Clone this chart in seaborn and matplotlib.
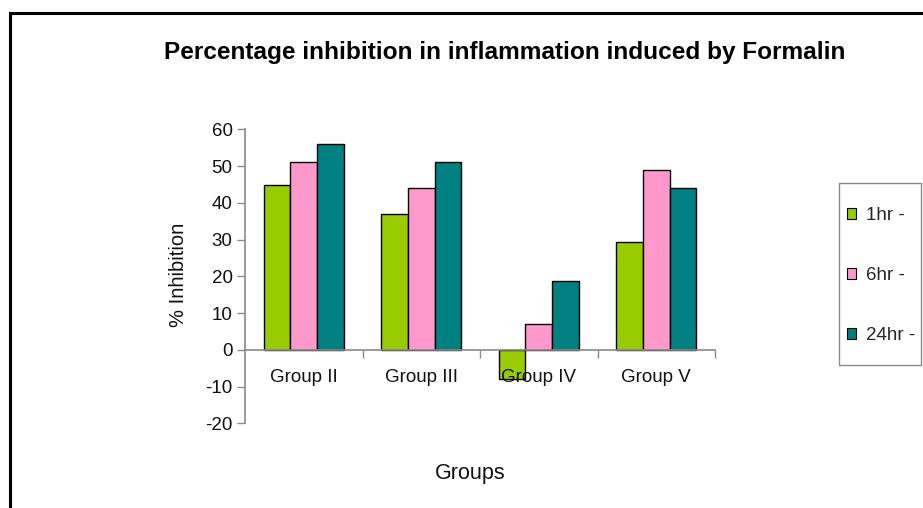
import matplotlib
matplotlib.use("Agg")
import matplotlib.pyplot as plt
import matplotlib.patches as mpatches
import seaborn as sns
import pandas as pd

# Percentage inhibition per group at each time point
groups = ["Group II", "Group III", "Group IV", "Group V"]
times = ["1hr -", "6hr -", "24hr -"]
inhibition_1hr = [44.8, 37.0, -8.0, 29.2]
inhibition_6hr = [51.0, 44.0, 7.0, 49.0]
inhibition_24hr = [56.0, 51.0, 18.7, 44.0]
y_ticks = [-20, -10, 0, 10, 20, 30, 40, 50, 60]

colors = ["#99CC00", "#FF99CC", "#008080"]

df = pd.DataFrame({
    "Groups": groups * 3,
    "Time": [t for t in times for _ in groups],
    "Inhibition": inhibition_1hr + inhibition_6hr + inhibition_24hr,
})

sns.set_style("white")
plt.rcParams["font.family"] = ["Liberation Sans", "DejaVu Sans"]

W, H = 923, 508
fig = plt.figure(figsize=(W / 100, H / 100), dpi=100)
ax = fig.add_axes([245 / W, 1 - 423.3 / H, (715 - 245) / W, (423.3 - 129.3) / H])

sns.barplot(data=df, x="Groups", y="Inhibition", hue="Time",
            palette=colors, width=0.68, edgecolor="black", linewidth=1.0,
            saturation=1.0, ax=ax, legend=False)

ax.set_ylim(-20, 60)
ax.set_xlim(-0.5, 3.5)
ax.set_yticks(y_ticks)
ax.set_yticklabels([str(v) for v in y_ticks])
# Axis labels and tick labels are drawn over the bars
ax.set_axisbelow(False)

axis_grey = "#8a8a8a"
for side in ["top", "right"]:
    ax.spines[side].set_visible(False)
ax.spines["left"].set_color(axis_grey)
ax.spines["bottom"].set_color(axis_grey)
ax.spines["bottom"].set_position(("data", 0))
ax.spines["left"].set_linewidth(1.2)
ax.spines["bottom"].set_linewidth(1.2)

ax.tick_params(axis="y", which="major", direction="out", length=6, width=1.0,
               color=axis_grey, labelsize=13.5, labelcolor="#111111", pad=3, left=True)
# Category labels sit under the zero line, tick marks fall between categories
ax.set_xticks(range(len(groups)))
ax.set_xticklabels(groups)
ax.set_xticks([0.5, 1.5, 2.5, 3.5], minor=True)
ax.tick_params(axis="x", which="major", length=0, labelsize=13.5,
               labelcolor="#111111", pad=14, bottom=True)
ax.tick_params(axis="x", which="minor", direction="out", length=6, width=1.0,
               color=axis_grey, bottom=True)

ax.set_xlabel("")
ax.set_ylabel("")
fig.text(178 / W, 1 - 275 / H, "% Inhibition", rotation=90,
         ha="center", va="center", fontsize=14.5, color="#111111")
fig.text(470 / W, 1 - 473 / H, "Groups", ha="center", va="center",
         fontsize=15.5, color="#111111")
fig.text(505 / W, 1 - 52 / H,
         "Percentage inhibition in inflammation induced by Formalin",
         ha="center", va="center", fontsize=17.6, fontweight="bold", color="black")

# Legend entries, with a separate grey box around them
handles = [mpatches.Patch(facecolor=c, edgecolor="black", linewidth=0.8, label=t)
           for c, t in zip(colors, times)]
leg = fig.legend(handles=handles, loc="upper left",
                 bbox_to_anchor=(847 / W, 1 - 207 / H),
                 frameon=False, fontsize=13.5,
                 handlelength=0.5, handleheight=0.5, handletextpad=0.5,
                 labelspacing=2.3, borderpad=0, borderaxespad=0)
fig.patches.append(mpatches.Rectangle((839 / W, 1 - 365 / H), 82 / W, 182 / H,
                                      transform=fig.transFigure, fill=False,
                                      edgecolor=axis_grey, linewidth=1.0))

# Outer frame of the figure
fig.patches.append(mpatches.Rectangle((10 / W, -0.1), 1.2, 1 - 13 / H + 0.1,
                                      transform=fig.transFigure, fill=False,
                                      edgecolor="black", linewidth=2.2))

fig.savefig("out.png", dpi=100)
